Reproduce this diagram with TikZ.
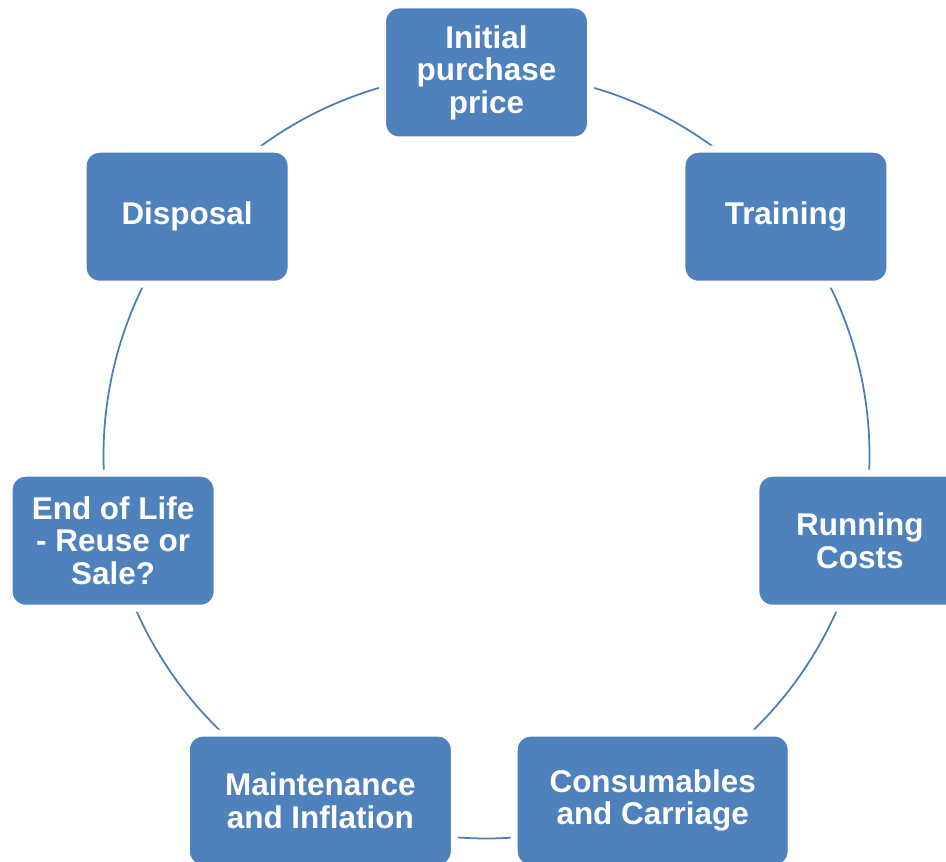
\documentclass[tikz,border=0pt]{standalone}
\usepackage{fontspec}
\setmainfont{Liberation Sans}
\usetikzlibrary{backgrounds}
\definecolor{cycBlue}{HTML}{4F81BD}
\definecolor{cycLine}{HTML}{4A7EBB}

\begin{document}
\begin{tikzpicture}[
  stage/.style={rectangle, rounded corners=0.33cm, fill=cycBlue, draw=white, line width=0.14cm,
    minimum height=2.7cm, inner sep=0pt, align=center, text=white,
    font=\fontsize{17.9}{18.5}\selectfont\bfseries},
  ring/.style={draw=cycLine, line width=0.035cm}
]
  %% --- geometria (cm; 1px = 0.02cm) ---
  \def\rad{7.66}             % raggio del ciclo
  \def\dang{51.4286}         % 360/7 gradi fra due fasi
  \useasboundingbox (0,0) rectangle (18.92,17.22);
  \coordinate (ctr) at (9.73,8.11);

  %% --- fasi del ciclo, in senso orario dall'alto ---
  \foreach \name/\boxw/\txt [count=\i from 0] in {
    purchase/4.16cm/Initial\\purchase\\price,
    training/4.16cm/Training,
    running/4.16cm/Running\\Costs,
    consumables/5.54cm/Consumables\\and Carriage,
    maintenance/5.36cm/Maintenance\\and Inflation,
    endoflife/4.16cm/End of Life\\- Reuse or\\Sale?,
    disposal/4.16cm/Disposal%
  } {
    \pgfmathsetmacro{\ang}{90-\i*\dang}
    \node[stage, minimum width=\boxw] (\name) at ([shift={(\ang:\rad)}]ctr) {\txt};
  }

  %% --- archi fra fasi vicine, sotto i box (il bordo bianco lascia lo stacco) ---
  \begin{scope}[on background layer]
    \foreach \a/\b [count=\i from 0] in {
      purchase/training, training/running, running/consumables,
      consumables/maintenance, maintenance/endoflife,
      endoflife/disposal, disposal/purchase
    } {
      \pgfmathsetmacro{\sa}{90-\i*\dang}
      \pgfmathsetmacro{\ea}{\sa-\dang}
      \draw[ring] (\a.center) arc[start angle=\sa, end angle=\ea, radius=\rad cm];
    }
  \end{scope}
\end{tikzpicture}
\end{document}
